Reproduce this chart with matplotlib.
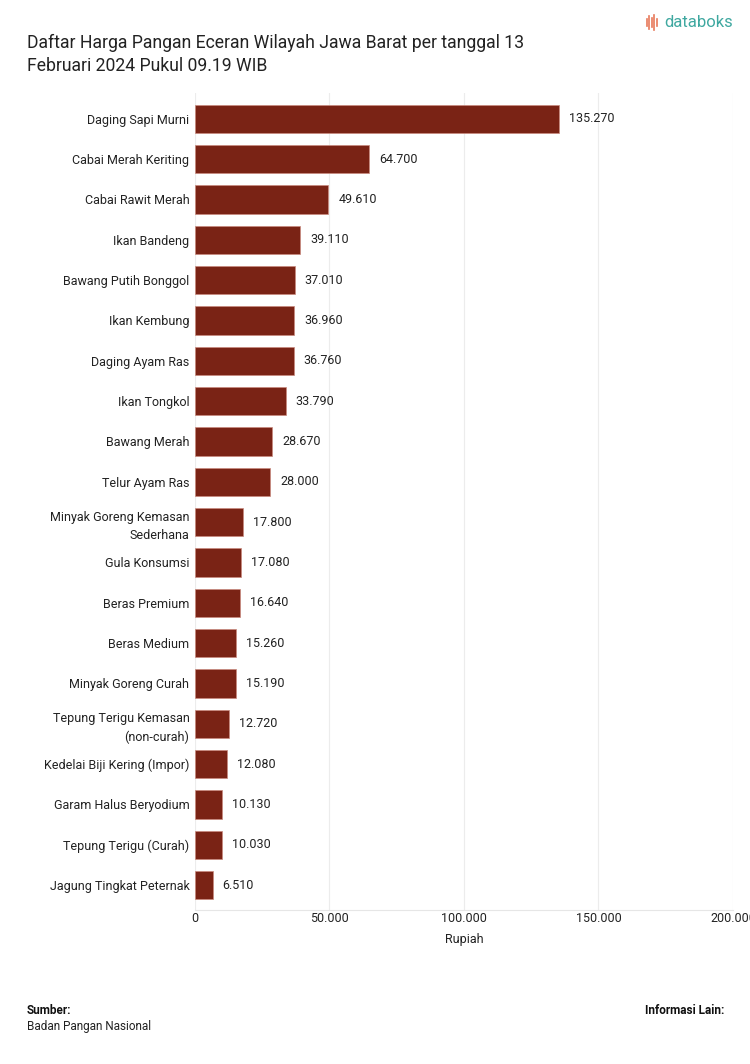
import matplotlib.pyplot as plt
from matplotlib.ticker import FuncFormatter

plt.rcParams['font.family'] = ['Roboto', 'DejaVu Sans']

# data
items = ["Daging Sapi Murni", "Cabai Merah Keriting", "Cabai Rawit Merah", "Ikan Bandeng",
         "Bawang Putih Bonggol", "Ikan Kembung", "Daging Ayam Ras", "Ikan Tongkol",
         "Bawang Merah", "Telur Ayam Ras", "Minyak Goreng Kemasan\nSederhana", "Gula Konsumsi",
         "Beras Premium", "Beras Medium", "Minyak Goreng Curah", "Tepung Terigu Kemasan\n(non-curah)",
         "Kedelai Biji Kering (Impor)", "Garam Halus Beryodium", "Tepung Terigu (Curah)",
         "Jagung Tingkat Peternak"]
prices = [135270, 64700, 49610, 39110, 37010, 36960, 36760, 33790, 28670, 28000,
          17800, 17080, 16640, 15260, 15190, 12720, 12080, 10130, 10030, 6510]
ticks = [0, 50000, 100000, 150000, 200000]

def fmt(v, pos=None):
    return f"{int(v):,}".replace(",", ".")

fig = plt.figure(figsize=(7.5, 10.64), dpi=100)
ax = fig.add_axes([0.26, 0.1443, 0.7173, 0.768])

ypos = list(range(len(items)))
ax.barh(ypos, prices, height=0.7, color="#7a2315", edgecolor="#c98a7e", linewidth=0.5, zorder=3)
for y, v in zip(ypos, prices):
    ax.text(v + 3700, y, fmt(v), va="center", ha="left", fontsize=9, color="#222222")

ax.set_ylim(len(items) - 0.37, -0.63)
ax.set_xlim(0, 200000)
ax.set_yticks(ypos)
ax.set_yticklabels(items, fontsize=9, color="#222222", linespacing=1.5)
ax.set_xticks(ticks)
ax.xaxis.set_major_formatter(FuncFormatter(fmt))
ax.tick_params(axis="x", length=0, labelsize=9, labelcolor="#222222", pad=1)
ax.tick_params(axis="y", length=0, pad=4)
ax.grid(axis="x", color="#ececec", linewidth=0.8, zorder=0)
for s in ["top", "right", "left"]:
    ax.spines[s].set_visible(False)
ax.spines["bottom"].set_color("#e6e6e6")
ax.set_xlabel("Rupiah", fontsize=9, color="#222222", labelpad=6)

fig.text(0.036, 0.968, "Daftar Harga Pangan Eceran Wilayah Jawa Barat per tanggal 13\nFebruari 2024 Pukul 09.19 WIB",
         fontsize=12.7, color="#222222", va="top", ha="left", linespacing=1.35)
fig.text(0.977, 0.979, "databoks", fontsize=12, color="#3fa8a0", ha="right", va="center")
for i, h in enumerate([0.006, 0.012, 0.009, 0.014, 0.007]):
    fig.add_artist(plt.Line2D([0.862 + i * 0.0035] * 2, [0.979 - h / 2, 0.979 + h / 2],
                              color="#e8795a", linewidth=1.2))

fig.text(0.036, 0.050, "Sumber:", fontsize=8.5, fontweight="bold", color="#111111", va="center")
fig.text(0.036, 0.0355, "Badan Pangan Nasional", fontsize=8.5, color="#222222", va="center")
fig.text(0.966, 0.050, "Informasi Lain:", fontsize=8.5, fontweight="bold", color="#111111",
         va="center", ha="right")

fig.savefig("out.png", dpi=100, facecolor="white")
